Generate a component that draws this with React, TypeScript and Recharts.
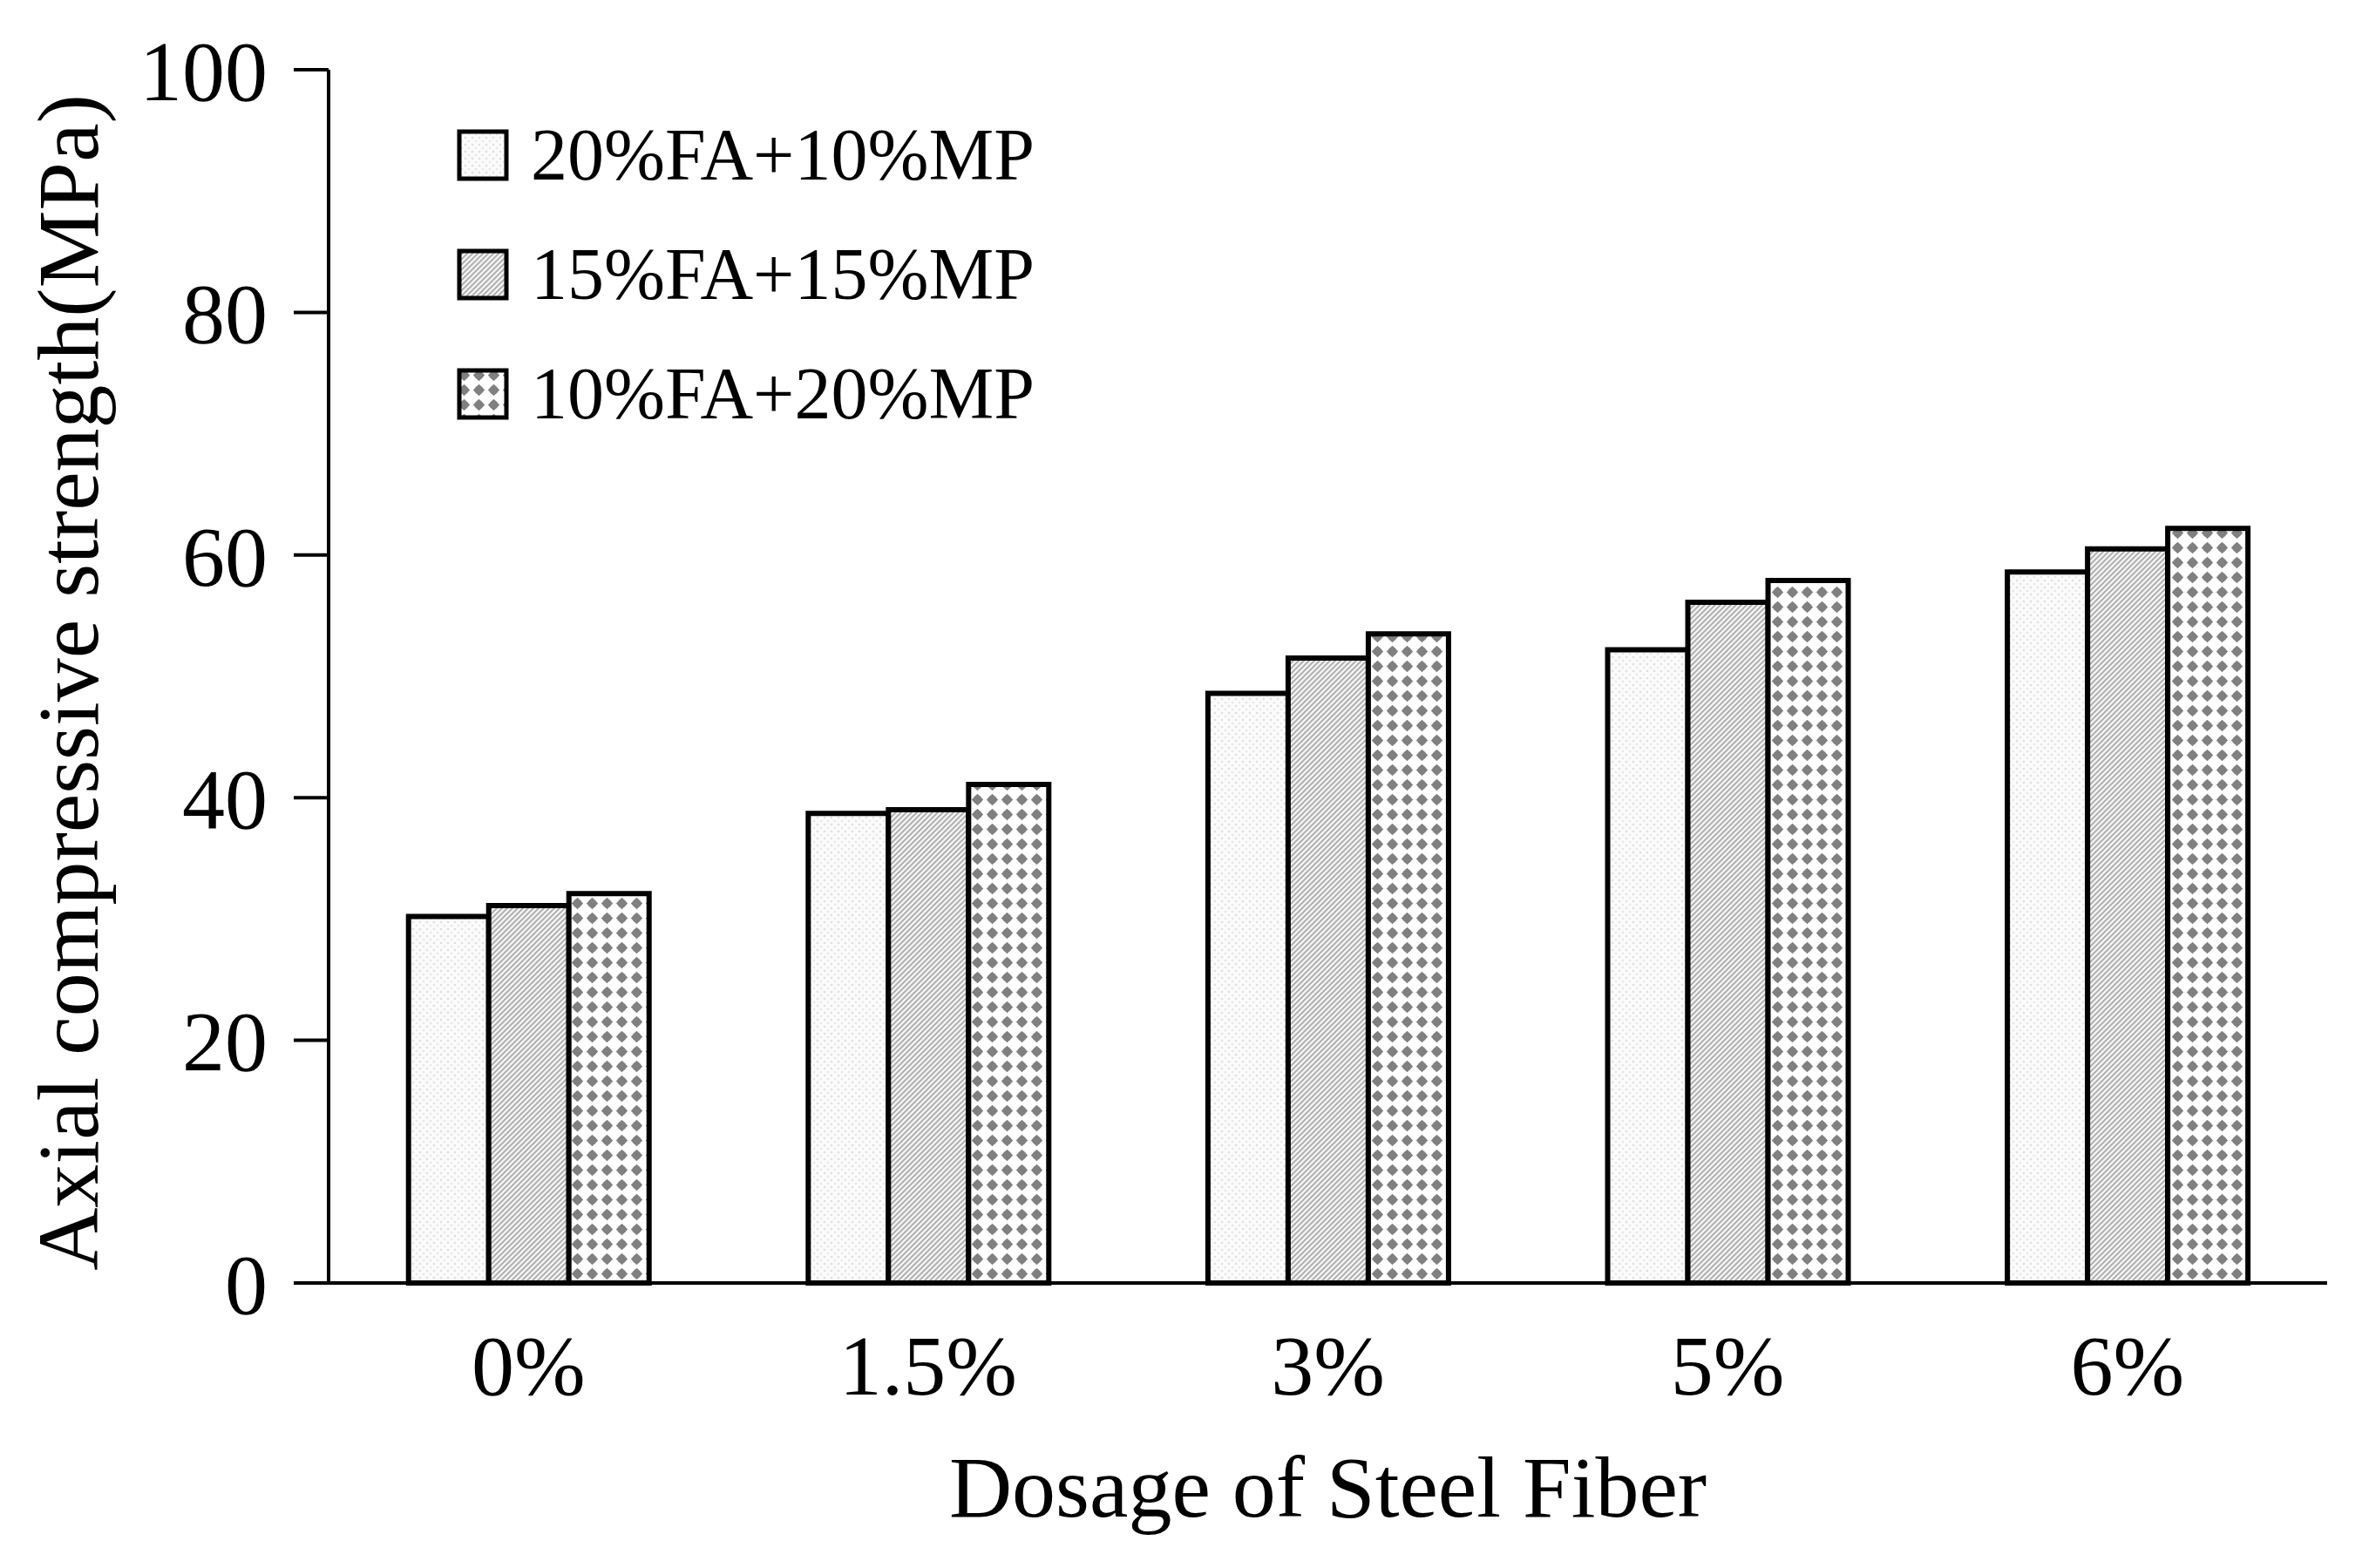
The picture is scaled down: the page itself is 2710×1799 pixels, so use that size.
import React from "react"
import { BarChart, Bar, XAxis, YAxis, Legend, Label } from "recharts"

const dosages = ["0%", "1.5%", "3%", "5%", "6%"]
const fa20mp10 = [30.2, 38.7, 48.6, 52.2, 58.6]
const fa15mp15 = [31.1, 39.0, 51.5, 56.1, 60.5]
const fa10mp20 = [32.1, 41.1, 53.5, 57.9, 62.2]
const yTicks = [0, 20, 40, 60, 80, 100]
const boundaryTicks = [0, 1, 2, 3, 4, 5]

const series = [
  { key: "a", name: "20%FA+10%MP", fill: "url(#patSpeckle)" },
  { key: "b", name: "15%FA+15%MP", fill: "url(#patHatch)" },
  { key: "c", name: "10%FA+20%MP", fill: "url(#patDots)" },
]

const data = dosages.map((d, i) => ({
  dosage: d,
  a: fa20mp10[i],
  b: fa15mp15[i],
  c: fa10mp20[i],
}))

const FONT = "'Liberation Serif', 'Times New Roman', serif"

const LegendBox = () => (
  <div style={{ fontFamily: FONT, fontSize: 84, color: "#000" }}>
    {series.map((s) => (
      <div key={s.key} style={{ display: "flex", alignItems: "center", height: 137 }}>
        <svg width={60} height={60} style={{ display: "block" }}>
          <rect x={3} y={3} width={54} height={54} fill={s.fill} stroke="#000" strokeWidth={5} />
        </svg>
        <span style={{ marginLeft: 25, lineHeight: 1 }}>{s.name}</span>
      </div>
    ))}
  </div>
)

export default function App() {
  return (
    <BarChart
      width={2694}
      height={1783}
      data={data}
      margin={{ top: 72, right: 32, left: 0, bottom: 0 }}
      barCategoryGap="20%"
      barGap={0}
    >
      <defs>
        <pattern id="patSpeckle" patternUnits="userSpaceOnUse" width={8} height={8}>
          <rect width={8} height={8} fill="#fbfbfb" />
          <circle cx={2} cy={2} r={1.3} fill="#dedede" />
          <circle cx={6} cy={6} r={1.3} fill="#e6e6e6" />
        </pattern>
        <pattern id="patHatch" patternUnits="userSpaceOnUse" width={6} height={6}>
          <rect width={6} height={6} fill="#f2f2f2" />
          <path d="M-1,1 l2,-2 M0,6 l6,-6 M5,7 l2,-2" stroke="#a8a8a8" strokeWidth={1.6} />
        </pattern>
        <pattern id="patDots" patternUnits="userSpaceOnUse" width={17} height={17}>
          <rect width={17} height={17} fill="#ffffff" />
          <circle cx={8.5} cy={8.5} r={5} fill="#808080" />
          <path d="M8.5,1.8 L15.2,8.5 L8.5,15.2 L1.8,8.5 Z" fill="#808080" />
        </pattern>
      </defs>

      <XAxis
        xAxisId="bounds"
        type="number"
        domain={[0, 5]}
        ticks={boundaryTicks}
        mirror
        height={0}
        axisLine={false}
        tickSize={38}
        tickLine={{ stroke: "#000", strokeWidth: 4 }}
        tick={() => <g />}
      />
      <XAxis
        dataKey="dosage"
        height={319}
        axisLine={{ stroke: "#000", strokeWidth: 4 }}
        tickLine={false}
        tickSize={0}
        tickMargin={58}
        tick={{ fill: "#000", fontSize: 98, fontFamily: FONT }}
      >
        <Label
          content={({ viewBox }: any) => (
            <text
              x={viewBox.x + viewBox.width / 2}
              y={viewBox.y + 268}
              textAnchor="middle"
              fontSize={100}
              fontFamily={FONT}
              fill="#000"
            >
              Dosage of Steel Fiber
            </text>
          )}
        />
      </XAxis>
      <YAxis
        width={369}
        domain={[0, 100]}
        ticks={yTicks}
        axisLine={{ stroke: "#000", strokeWidth: 4 }}
        tickLine={{ stroke: "#000", strokeWidth: 4 }}
        tickSize={40}
        tickMargin={30}
        tick={{ fill: "#000", fontSize: 98, fontFamily: FONT }}
      >
        <Label
          content={({ viewBox }: any) => {
            const x = 104
            const y = viewBox.y + viewBox.height / 2 + 7
            return (
              <text
                x={x}
                y={y}
                transform={`rotate(-90, ${x}, ${y})`}
                textAnchor="middle"
                fontSize={100}
                fontFamily={FONT}
                fill="#000"
              >
                Axial compressive strength(MPa)
              </text>
            )
          }}
        />
      </YAxis>

      <Legend
        layout="vertical"
        align="center"
        verticalAlign="middle"
        wrapperStyle={{ top: 101, left: 516, width: "auto" }}
        content={() => <LegendBox />}
      />

      {series.map((s) => (
        <Bar
          key={s.key}
          dataKey={s.key}
          name={s.name}
          fill={s.fill}
          stroke="#000"
          strokeWidth={6}
          isAnimationActive={false}
        />
      ))}
    </BarChart>
  )
}
